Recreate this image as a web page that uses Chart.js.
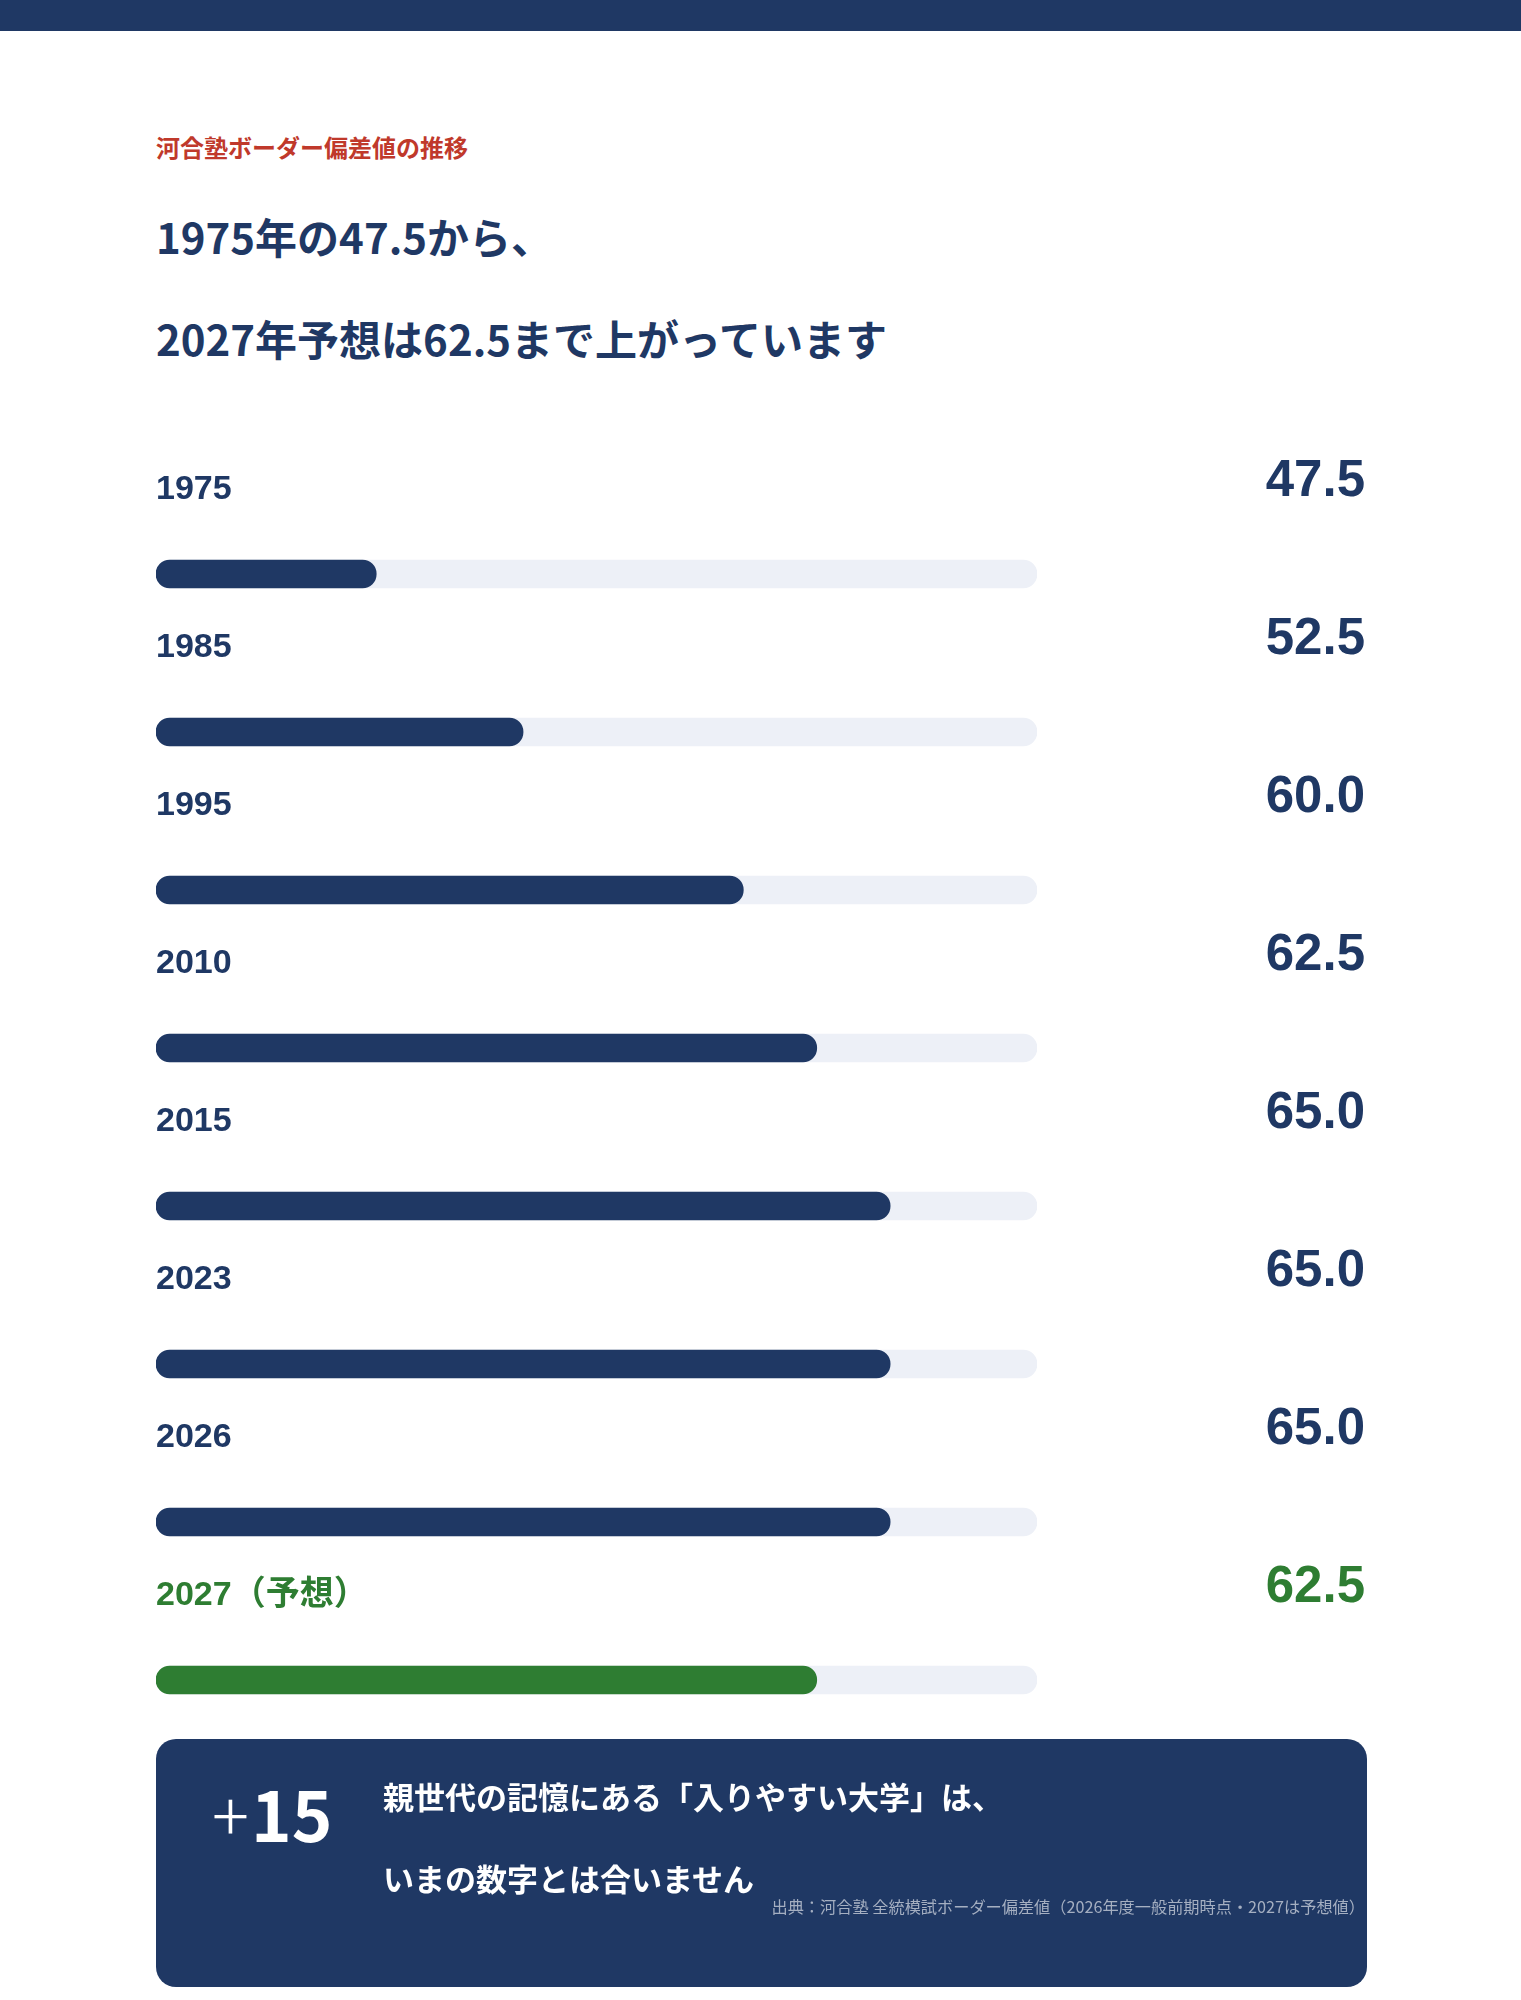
<!DOCTYPE html>
<html lang="ja">
<head>
<meta charset="utf-8">
<script src="https://cdn.jsdelivr.net/npm/chart.js@4"></script>
<style>
  html, body { margin: 0; padding: 0; background: #fff; }
  body { width: 1521px; height: 2000px; position: relative; font-family: "Noto Sans CJK JP", sans-serif; overflow: hidden; }
  .topbar { position: absolute; left: 0; top: 0; width: 1521px; height: 31px; background: #1F3864; }
  .kicker { position: absolute; left: 156px; top: 131px; line-height: 32px; font-size: 24px; font-weight: 700; color: #C0392B; }
  .title { position: absolute; left: 156px; font-size: 42px; line-height: 50px; font-weight: 700; color: #1F3864; white-space: nowrap; }
  #chartWrap { position: absolute; left: 156px; top: 400px; width: 1211px; height: 1359px; }
  .box { position: absolute; left: 156px; top: 1739px; width: 1211px; height: 248px; background: #1F3864; border-radius: 20px; z-index: 2; color: #fff; }
  .big { position: absolute; left: 56px; top: 33px; line-height: 80px; font-size: 69px; font-weight: 700; }
  .big .plus { font-weight: 300; margin-right: 2px; }
  .msg { position: absolute; left: 227px; font-size: 31px; line-height: 40px; font-weight: 700; white-space: nowrap; }
  .src { position: absolute; right: 2px; top: 156px; font-size: 16.2px; line-height: 22px; color: #A5AFC1; white-space: nowrap; }
</style>
</head>
<body>
<div class="topbar"></div>
<div class="kicker">河合塾ボーダー偏差値の推移</div>
<div class="title" style="top:211px">1975年の47.5から、</div>
<div class="title" style="top:313px">2027年予想は62.5まで上がっています</div>

<div id="chartWrap"><canvas id="borderChart" width="1211" height="1359"></canvas></div>

<div class="box">
  <div class="big"><span class="plus">+</span>15</div>
  <div class="msg" style="top:37px">親世代の記憶にある「入りやすい大学」は、</div>
  <div class="msg" style="top:119px">いまの数字とは合いません</div>
  <div class="src">出典：河合塾 全統模試ボーダー偏差値（2026年度一般前期時点・2027は予想値）</div>
</div>

<script>
//<![CDATA[

let years = ['1975', '1985', '1995', '2010', '2015', '2023', '2026', '2027（予想）'];
let scores = [47.5, 52.5, 60.0, 62.5, 65.0, 65.0, 65.0, 62.5];
let scoreLabels = ['47.5', '52.5', '60.0', '62.5', '65.0', '65.0', '65.0', '62.5'];
let scaleMin = 40;
let scaleMax = 70;

const NAVY = '#1F3864';
const GREEN = '#2E7D32';
const TRACK = '#EDF0F7';

// last row is the forecast -> green
let barColors = [];
for (let i = 0; i < years.length; i++) {
    barColors.push(i === years.length - 1 ? GREEN : NAVY);
}
let trackData = years.map(() => scaleMax);

// year label above each bar (left) and the score (right)
const rowLabels = {
    id: 'rowLabels',
    afterDatasetsDraw(chart) {
        const ctx = chart.ctx;
        const yScale = chart.scales.y;
        const left = chart.chartArea.left;
        const right = chart.width - 2;
        ctx.save();
        for (let i = 0; i < years.length; i++) {
            const y = yScale.getPixelForValue(i);
            ctx.fillStyle = barColors[i];
            ctx.textBaseline = 'middle';

            ctx.textAlign = 'left';
            ctx.font = 'bold 34px "Liberation Sans", "Noto Sans CJK JP", sans-serif';
            ctx.fillText(years[i], left, y - 84);

            ctx.textAlign = 'right';
            ctx.font = 'bold 51px "Liberation Sans", "Noto Sans CJK JP", sans-serif';
            ctx.fillText(scoreLabels[i], right, y - 92);
        }
        ctx.restore();
    }
};

const ctx = document.getElementById('borderChart');
const borderChart = new Chart(ctx, {
    type: 'bar',
    data: {
        labels: years,
        datasets: [
            {
                label: 'score',
                data: scores,
                base: scaleMin,
                backgroundColor: barColors,
                borderRadius: 14,
                borderSkipped: false,
                barThickness: 28,
                grouped: false,
                order: 0
            },
            {
                label: 'track',
                data: trackData,
                base: scaleMin,
                backgroundColor: TRACK,
                borderRadius: 14,
                borderSkipped: false,
                barThickness: 28,
                grouped: false,
                order: 1
            }
        ]
    },
    options: {
        indexAxis: 'y',
        responsive: false,
        animation: false,
        layout: {
            padding: {
                top: 95,
                right: 330,
                left: 0,
                bottom: 0
            }
        },
        plugins: {
            legend: { display: false },
            tooltip: { enabled: false }
        },
        scales: {
            x: {
                display: false,
                min: scaleMin,
                max: scaleMax
            },
            y: {
                display: false
            }
        }
    },
    plugins: [rowLabels]
});

// ]]>
</script>
</body>
</html>
